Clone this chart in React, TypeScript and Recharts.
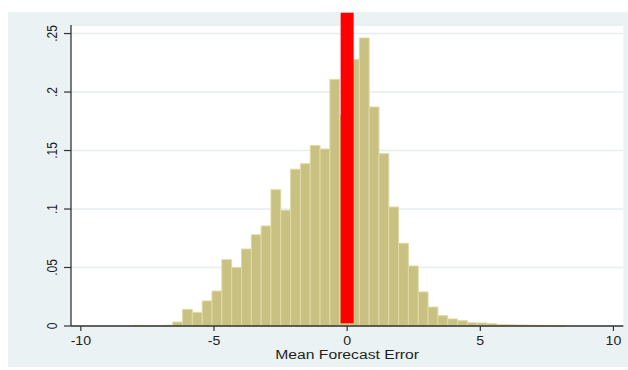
import React from 'react';
import {
  ComposedChart,
  XAxis,
  YAxis,
  CartesianGrid,
  ReferenceArea,
  ReferenceLine,
  Line,
} from 'recharts';

// Histogram of mean forecast errors (density scale)
const binStart = -8.025;
const binWidth = 0.3688;
const density = [
  0.0006, 0.0004, 0.0004, 0.0006, 0.0034, 0.0142, 0.0117, 0.0214, 0.0299, 0.0567,
  0.05, 0.0658, 0.078, 0.0855, 0.1165, 0.099, 0.134, 0.1387, 0.1544, 0.1513,
  0.2108, 0.18, 0.2279, 0.2462, 0.1872, 0.1473, 0.1017, 0.0707, 0.0513, 0.0291,
  0.0162, 0.0088, 0.006, 0.0045, 0.0028, 0.0026, 0.002, 0.0012, 0.001, 0.0008,
  0.0007, 0.0006, 0.0005, 0.0004,
];

const xTicks = [-10, -5, 0, 5, 10];
const yTicks = [0, 0.05, 0.1, 0.15, 0.2, 0.25];
const yTickLabels = ['0', '.05', '.1', '.15', '.2', '.25'];
const xTitle = 'Mean Forecast Error';

// vertical marker at zero error
const markerX = 0;
const markerSpan = [0.0023, 0.2678];

const xDomain = [-10.37, 10.37];
const yDomain = [0, 0.2573];

const bins = density.map((d, i) => ({
  start: binStart + i * binWidth,
  end: binStart + (i + 1) * binWidth,
  mid: binStart + (i + 0.5) * binWidth,
  density: d,
}));

const FONT = '"Liberation Sans", Arial, Helvetica, sans-serif';
const STRETCH = 1.18;
const TEXT = '#1e1e1e';
const BG = '#EAF2F3';
const BAR_FILL = '#C9C181';
const BAR_EDGE = '#DFD9A6';
const AXIS = '#333333';

const XTick = (props: any) => {
  const { x, y, payload } = props;
  return (
    <text
      transform={`translate(${x},${y + 14.3}) scale(${STRETCH},1)`}
      textAnchor="middle"
      fontFamily={FONT}
      fontSize={12}
      fill={TEXT}
    >
      {String(payload.value)}
    </text>
  );
};

const YTick = (props: any) => {
  const { x, y, payload } = props;
  const idx = yTicks.indexOf(payload.value);
  const label = idx >= 0 ? yTickLabels[idx] : String(payload.value);
  return (
    <text
      transform={`translate(${x - 7.3},${y}) scale(${STRETCH},1) rotate(-90)`}
      textAnchor="middle"
      fontFamily={FONT}
      fontSize={12}
      fill={TEXT}
    >
      {label}
    </text>
  );
};

const AxisTitle = (props: any) => {
  const vb = props.viewBox || {};
  const cx = (vb.x ?? 0) + (vb.width ?? 0) / 2;
  const by = (vb.y ?? 0) + 33.2;
  return (
    <text
      transform={`translate(${cx},${by}) scale(${STRETCH},1)`}
      textAnchor="middle"
      fontFamily={FONT}
      fontSize={13.3}
      fill={TEXT}
    >
      {xTitle}
    </text>
  );
};

export default function App() {
  return (
    <div style={{ position: 'fixed', left: 8, top: 12 }}>
      <ComposedChart
        width={620}
        height={355}
        data={bins}
        margin={{ top: 13, right: 4.7, bottom: 0, left: 0 }}
        style={{ background: BG }}
      >
        <CartesianGrid
          vertical={false}
          horizontal
          fill="#FFFFFF"
          stroke="#E6EEF0"
          strokeWidth={1.5}
        />
        <XAxis
          dataKey="mid"
          type="number"
          domain={xDomain}
          ticks={xTicks}
          interval={0}
          allowDataOverflow
          height={41}
          tickSize={5}
          tickMargin={0}
          axisLine={{ stroke: AXIS, strokeWidth: 1.3 }}
          tickLine={{ stroke: AXIS, strokeWidth: 1.2 }}
          tick={<XTick />}
          label={<AxisTitle />}
        />
        <YAxis
          type="number"
          domain={yDomain}
          ticks={yTicks}
          interval={0}
          allowDataOverflow
          width={63}
          tickSize={7}
          tickMargin={0}
          axisLine={{ stroke: AXIS, strokeWidth: 1.3 }}
          tickLine={{ stroke: AXIS, strokeWidth: 1.2 }}
          tick={<YTick />}
        />
        {bins.map((b, i) => (
          <ReferenceArea
            key={i}
            x1={b.start}
            x2={b.end}
            y1={0}
            y2={b.density}
            fill={BAR_FILL}
            fillOpacity={1}
            stroke={BAR_EDGE}
            strokeWidth={1}
            ifOverflow="visible"
          />
        ))}
        <Line
          dataKey="density"
          stroke="none"
          dot={false}
          activeDot={false}
          legendType="none"
          isAnimationActive={false}
        />
        <ReferenceLine
          segment={[
            { x: markerX, y: markerSpan[0] },
            { x: markerX, y: markerSpan[1] },
          ]}
          stroke="#FF0000"
          strokeWidth={13}
          ifOverflow="visible"
        />
      </ComposedChart>
    </div>
  );
}
